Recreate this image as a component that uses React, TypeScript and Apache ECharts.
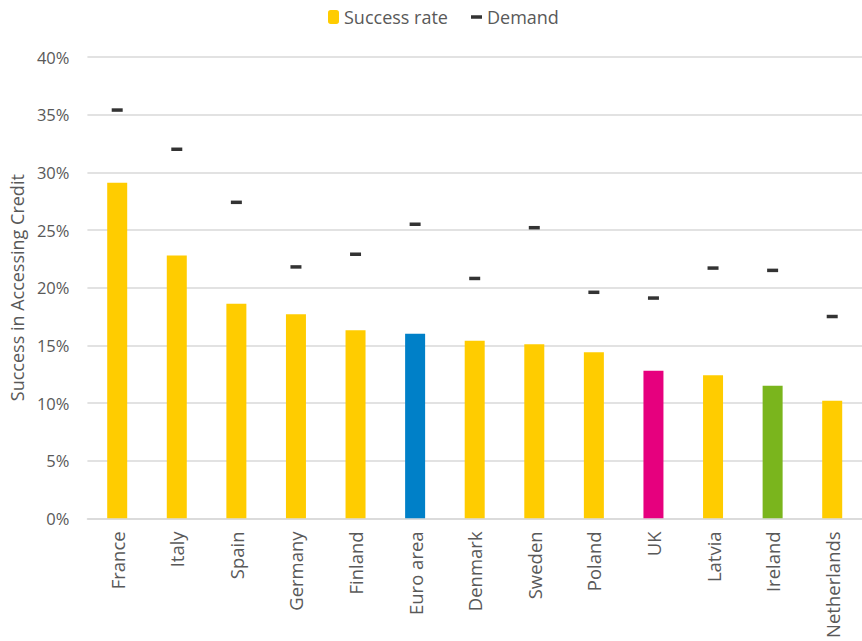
import React, { useEffect, useRef } from "react";
import * as echarts from "echarts";

const categories = ["France", "Italy", "Spain", "Germany", "Finland", "Euro area", "Denmark", "Sweden", "Poland", "UK", "Latvia", "Ireland", "Netherlands"];
const successRate = [29.1, 22.8, 18.6, 17.7, 16.3, 16.0, 15.4, 15.1, 14.4, 12.8, 12.4, 11.5, 10.2];
const demand = [35.4, 32.0, 27.4, 21.8, 22.9, 25.5, 20.8, 25.2, 19.6, 19.1, 21.7, 21.5, 17.5];
const yTicks = [0, 5, 10, 15, 20, 25, 30, 35, 40];

const baseColor = "#FFCC00";
const highlightColors: Record<string, string> = {
  "Euro area": "#0080C8",
  UK: "#E6007E",
  Ireland: "#7AB51D",
};

const FONT = "'Open Sans', sans-serif";
const TEXT = "#595959";

export default function App() {
  const ref = useRef<HTMLDivElement>(null);
  useEffect(() => {
    if (!ref.current) return;
    const chart = echarts.init(ref.current, undefined, { renderer: "svg" });
    chart.setOption({
      animation: false,
      textStyle: { fontFamily: FONT },
      legend: [
        {
          data: ["Success rate"],
          top: 3,
          left: 323,
          itemWidth: 11,
          itemHeight: 14,
          itemGap: 6,
          textStyle: { color: TEXT, fontSize: 18, fontFamily: FONT },
        },
        {
          data: [{ name: "Demand", icon: "rect" }],
          top: 3,
          left: 466,
          itemWidth: 11,
          itemHeight: 3.5,
          itemGap: 6,
          textStyle: { color: TEXT, fontSize: 18, fontFamily: FONT },
        },
      ],
      grid: { left: 86, right: 0, top: 57, bottom: 122 },
      xAxis: {
        type: "category",
        data: categories,
        axisLine: { lineStyle: { color: "#D9D9D9", width: 1.5 } },
        axisTick: { show: false },
        axisLabel: {
          rotate: 90,
          margin: 13,
          color: TEXT,
          fontSize: 18.5,
          fontFamily: FONT,
          interval: 0,
        },
      },
      yAxis: {
        type: "value",
        min: yTicks[0],
        max: yTicks[yTicks.length - 1],
        interval: 5,
        name: "Success in Accessing Credit",
        nameLocation: "middle",
        nameGap: 60,
        nameTextStyle: { color: TEXT, fontSize: 18, fontFamily: FONT },
        axisLine: { show: false },
        axisTick: { show: false },
        axisLabel: {
          formatter: "{value}%",
          color: TEXT,
          fontSize: 16.5,
          fontFamily: FONT,
          margin: 18,
        },
        splitLine: { lineStyle: { color: "#D9D9D9", width: 1.5 } },
      },
      series: [
        {
          name: "Success rate",
          type: "bar",
          barWidth: 20,
          itemStyle: { color: baseColor },
          data: successRate.map((v, i) => ({
            value: v,
            itemStyle: { color: highlightColors[categories[i]] ?? baseColor },
          })),
        },
        {
          name: "Demand",
          type: "scatter",
          symbol: "rect",
          symbolSize: [11, 3.5],
          itemStyle: { color: "#000000" },
          data: demand,
          z: 5,
        },
      ],
    });
    return () => chart.dispose();
  }, []);
  return <div ref={ref} style={{ width: 862, height: 641, position: "absolute", left: 0, top: 0 }} />;
}
